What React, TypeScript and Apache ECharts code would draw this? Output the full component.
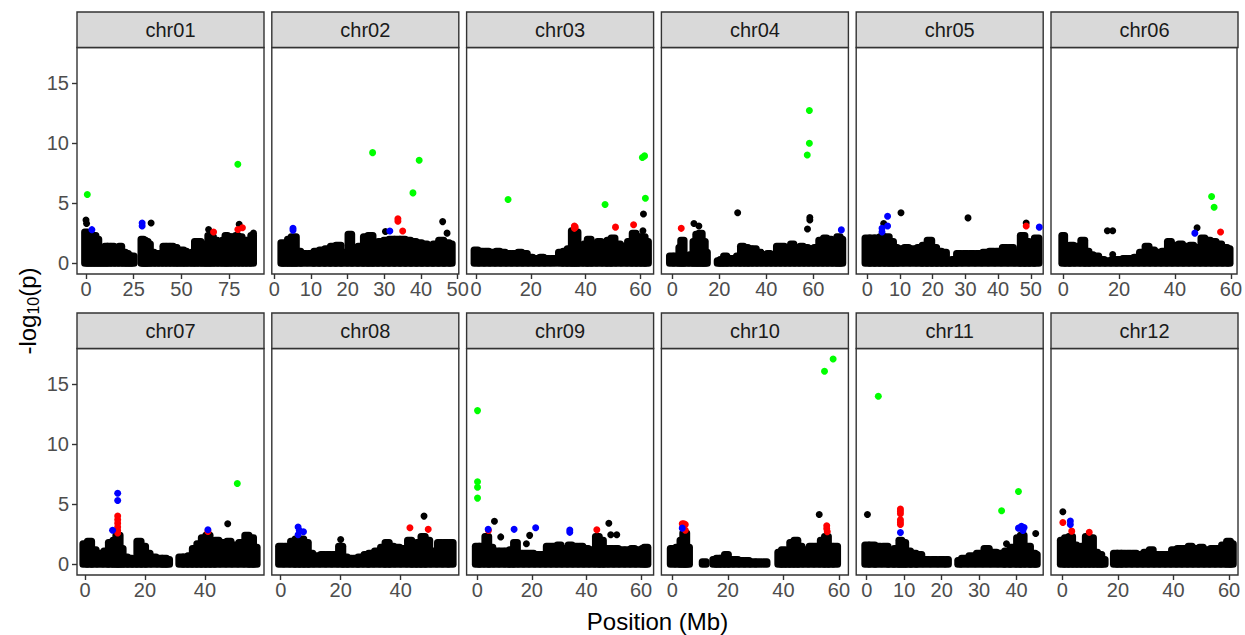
import { useEffect, useRef } from "react";
import * as echarts from "echarts";

const FONT = '"Liberation Sans", Arial, Helvetica, sans-serif';

const chromosomes = ["chr01", "chr02", "chr03", "chr04", "chr05", "chr06", "chr07", "chr08", "chr09", "chr10", "chr11", "chr12"];
const xMin = [-4.7, -0.68, -3.43, -4.64, -3.4, -4.38, -2.67, -2.97, -3.9, -3.9, -2.8, -4.06];
const xMax = [93.2, 50.3, 64.8, 74.9, 53.8, 62.2, 59.7, 59.4, 64.6, 63.4, 47.1, 63.2];
const xTicks = [
  [0, 25, 50, 75], [0, 10, 20, 30, 40, 50], [0, 20, 40, 60], [0, 20, 40, 60],
  [0, 10, 20, 30, 40, 50], [0, 20, 40, 60], [0, 20, 40], [0, 20, 40],
  [0, 20, 40, 60], [0, 20, 40, 60], [0, 10, 20, 30, 40], [0, 20, 40, 60],
];
const yTicks = [0, 5, 10, 15];
const yMin = -0.9;
const yMax = 17.95;

// Dense background cloud: [position Mb, upper envelope -log10(p), optional half-width Mb]
const chr01Cloud = [[0,2.6],[1.5,2.4],[3,2.3],[4.5,2.3],[6,2.0],[7.5,1.0],[9,1.2],[10.5,1.4],[12,1.4],[14,1.4],[16,1.3],[18,1.4],[20,0.9],[21.5,0.8],[23,0.6],[24.5,0.6,0.5],[29.5,2.0,0.5],[30.5,1.9],[31.8,1.8],[33,1.6],[35,0.9],[37,0.8],[39,0.8],[41,1.4],[43,1.4],[45,1.4],[47,1.3],[48.5,0.8],[50.5,1.1],[52,1.0],[54,0.8],[56,0.9],[57.5,1.8],[59.5,1.8],[61.5,1.5],[63,1.6],[64.5,2.3],[66,2.2],[68,1.9],[70,1.8],[72,1.9],[73.5,2.3],[75,2.2],[77,2.2],[79,2.3],[81,2.2],[83,1.9],[85,1.9],[87,2.3,0.4]];
const chr02Cloud = [[2.2,1.7,0.4],[3,1.3],[4.3,2.0],[5.3,2.2],[6.5,1.0],[8,0.8],[10,0.8],[11.5,1.0],[13,1.1],[14.5,1.2],[16,1.4],[17.5,1.5],[19,0.9],[20.6,2.4,0.5],[22,1.3],[23.5,1.4],[25,2.2],[26.2,2.3],[27.5,1.7],[29,1.8],[30.5,1.9],[32,2.0],[33.5,2.0],[35,2.0],[36.5,1.9],[38,1.8],[39.5,1.7],[41,1.6],[42.5,1.5],[44,1.6],[45.5,1.9],[47,1.7],[48.2,1.6,0.3]];
const chr03Cloud = [[0,1.1],[2,1.0],[4,1.0],[6,0.9],[8,1.0],[10,0.9],[12,0.8],[14,0.8],[16,0.9],[18,0.8],[20,0.5],[22,0.4],[24,0.5],[26,0.4],[28.2,0.4,0.4],[30.8,0.9,0.4],[32.5,1.0],[34,1.2],[35.5,2.7,0.5],[36.5,2.6,0.5],[38,1.4],[40,1.6],[41.3,2.0],[43,1.6],[45,1.8],[47,1.6],[48.5,1.9],[50,2.1],[52,1.6],[54,1.4],[56,1.8],[57.7,2.5,0.5],[59.3,2.2],[61,2.2],[62.2,1.8,0.3]];
const chr04Cloud = [[-0.5,0.6],[1.5,0.6],[3.5,1.3,0.5],[4.3,1.9,0.4],[6,0.6],[8,0.7],[9.5,1.8],[10.7,2.4],[12,2.5],[13.3,1.8,0.5],[14.2,0.9,0.3],[19.8,0.2,0.3],[21,0.3],[22.5,0.6],[24,0.4],[26,0.4],[28,0.6],[29.7,1.4],[31.5,1.3],[33,1.2],[35,1.2],[37,0.9],[39,0.7],[41,0.8],[43,0.6],[45,1.4],[47,1.4],[49,1.3],[51,1.6],[53,1.2],[55,1.4],[57,1.3],[59,1.2],[61,1.3],[63,1.9],[65,2.1],[67,2.0],[69,1.9],[70.7,2.2,0.5],[71.8,2.0,0.3]];
const chr05Cloud = [[0,2.1],[1.5,2.1],[3,2.1],[4.5,2.2],[6,2.2],[7.3,1.8],[8.5,1.3],[10,1.2],[12,1.3],[14,1.2],[16,1.3],[17.5,1.5],[19,1.9],[20.5,1.3],[22,1.0],[23.5,0.9],[25,0.2],[26.5,0.3],[28,0.8],[30,0.8],[32,0.8],[34,0.8],[36,0.9],[38,1.0],[40,1.0],[42,1.3],[44,1.3],[46,0.9],[47.5,2.3,0.5],[48.8,1.8],[50.3,1.0],[51.8,2.1,0.3]];
const chr06Cloud = [[0,2.3,0.5],[1.5,1.2],[3,1.5],[5,1.4],[7,1.9],[8.5,1.0],[10,0.7],[12,0.6],[14,0.3],[16,0.2],[18,0.3],[20,0.3],[22,0.4],[24,0.4],[26,0.5],[28,0.9],[30,1.4],[32,1.1],[34,0.9],[36,1.0],[38,1.8],[40,1.5],[42,1.6],[44,1.4],[46,1.5],[48,1.3],[50,2.1],[52,1.9],[54,1.8],[56,1.6],[58,1.3],[59.4,1.2,0.3]];
const chr07Cloud = [[0,1.7],[1.5,1.9],[3,1.2],[5,0.9],[7,1.1],[8.5,1.8],[10,2.0],[11,2.4,0.5],[12,1.3],[13.5,0.6],[15,0.5],[16.5,0.3],[18,1.9],[19.5,1.5],[21,0.9],[23,0.6],[25,0.5],[26.5,0.5],[27.5,0.4,0.3],[32,0.6,0.3],[33.5,0.6],[35,0.7],[36.5,1.3],[38,1.7],[39.5,2.2],[41,2.4],[42.5,1.7],[44,2.0],[46,1.8],[48,1.9],[50,1.6],[52,1.8],[54,2.4],[55.5,2.2],[56.7,1.4,0.3]];
const chr08Cloud = [[0,1.5],[2,1.5],[4,1.9],[5.5,2.1],[7,2.1],[8.5,1.8],[10,0.9],[12,0.7],[14,0.8],[16,0.8],[18,0.8],[20,1.5,0.5],[21.5,0.6],[23,0.5],[25,0.5],[26.5,0.6],[28.5,0.8],[30,0.9],[32,1.1],[34,1.4],[35.5,1.8],[37,1.5],[39,1.4],[41,1.3],[43,2.0,0.5],[44.5,1.5],[46,1.8],[47.5,2.3],[49,2.0],[51,1.1],[53,1.8],[55,1.8],[56.8,1.8,0.3]];
const chr09Cloud = [[0,1.5],[1.5,1.5],[3.5,2.3,0.5],[5,1.4],[7,1.1],[9,1.1],[11,1.1],[12.5,1.2],[14,1.8,0.5],[16,0.9],[18,0.9],[20,0.9],[22,0.8],[24,0.8],[26,1.5],[28,1.5],[30,1.6],[32,1.3],[34,1.6],[36,1.5],[38,1.5],[40,1.3],[42,1.2,0.4],[44,2.3,0.5],[45.5,2.0],[47,1.3],[49,1.3],[51,1.3],[53,1.2],[55,1.2],[57,1.3],[59,1.2],[61,1.3],[61.8,1.4,0.3]];
const chr10Cloud = [[0,1.3],[2,1.4],[3.5,2.0,0.5],[4.5,2.6,0.5],[5.5,1.4,0.6],[11.5,0.2,0],[15.3,0.4,0.4],[16.5,0.5],[18,0.5],[19.5,0.8],[21,0.4],[23,0.4],[25,0.3],[27,0.3],[29,0.2],[31,0.2],[33.4,0.2,0.5],[38.7,1.0,0.3],[40,1.2],[41.5,1.0],[43,1.8],[44.5,2.0],[46,1.5],[48,1.2],[50,1.5],[52,1.5],[54,2.0],[55.5,2.3],[57,1.5],[58.8,1.5,0.5]];
const chr11Cloud = [[0,1.6,0.5],[1.5,1.6],[3,1.5],[5,1.5],[6.5,1.0],[8,1.3],[9,2.0,0.4],[10,1.8,0.4],[11,1.1],[12.5,0.9],[14,0.8],[16,0.4],[18,0.4],[20,0.4],[21.5,0.4,0.3],[24.6,0.3,0.3],[26,0.5],[28,0.7],[30,0.9],[32,1.3],[34,1.0],[36,0.9],[37.5,1.1],[39,1.4],[40.5,2.2,0.5],[41.5,2.4,0.5],[43,1.5],[44.3,0.9],[45.2,0.8,0.3]];
const chr12Cloud = [[0,2.0],[1.5,2.2],[3,2.3,0.5],[4.5,1.6],[6,1.4],[7.5,1.5],[9,2.3,0.5],[10.5,2.2,0.5],[12,1.0],[13.5,0.8,0.5],[14.7,0.4,0.2],[19.1,0.9,0.3],[20.5,0.9],[22,0.9],[24,0.9],[26,0.9],[28,0.8],[30,1.0],[32,1.2],[34,0.8],[36,0.8],[38,0.8],[40,1.2],[42,1.3],[44,1.3],[46,1.5],[48,1.3],[50,1.4],[52,1.2],[54,1.3],[56,1.3],[58,1.6],[59.8,1.9,0.5],[60.8,1.7,0.3]];
const clouds = [chr01Cloud, chr02Cloud, chr03Cloud, chr04Cloud, chr05Cloud, chr06Cloud, chr07Cloud, chr08Cloud, chr09Cloud, chr10Cloud, chr11Cloud, chr12Cloud];

// Individual points: [chromosome index, position Mb, -log10(p)]
const blackPoints = [
  [0,0,3.6],[0,0.3,3.3],[0,34.1,3.35],[0,64.2,2.8],[0,80.2,3.24],[0,87.7,2.5],
  [1,30.3,2.63],[1,45.9,3.46],[1,47.1,2.5],
  [2,61.1,4.1],[2,60.9,2.7],
  [3,27.8,4.2],[3,58.5,3.8],[3,58.5,3.6],[3,57.5,2.85],[3,9.2,3.3],[3,11.3,3.1],
  [4,5.0,3.3],[4,10.3,4.2],[4,30.8,3.77],[4,48.6,3.35],
  [5,47.9,2.95],[5,15.8,2.7],[5,17.7,2.7],[5,17.7,0.73],
  [6,47.6,3.36],
  [7,47.8,4.0],[7,20.0,2.05],
  [8,6.3,3.58],[8,8.6,2.27],[8,19.2,2.4],[8,18.0,1.7],[8,48.2,3.4],[8,48.9,2.45],[8,51.1,2.45],
  [9,52.9,4.14],
  [10,0.2,4.14],[10,45.1,2.55],[10,37.3,1.7],
  [11,0.2,4.36],
];
const redPoints = [
  [0,66.8,2.6],[0,79.5,2.8],[0,81.9,2.95],
  [1,33.7,3.7],[1,33.7,3.5],[1,35.0,2.68],
  [2,35.9,3.1],[2,35.9,2.9],[2,36.2,3.0],[2,50.9,3.0],[2,57.5,3.2],
  [3,3.8,2.9],
  [4,48.6,3.1],
  [5,56.3,2.6],
  [6,10.9,4.0],[6,10.9,3.7],[6,10.9,3.4],[6,10.9,3.1],[6,10.9,2.8],[6,10.9,2.6],[6,41.0,2.73],
  [7,43.1,3.03],[7,49.2,2.9],
  [8,4.1,2.8],[8,43.8,2.87],
  [9,3.6,3.37],[9,4.2,3.37],[9,4.7,3.3],[9,4.7,2.83],[9,55.6,3.2],[9,55.6,2.95],[9,55.8,2.7],
  [10,9.0,4.6],[10,9.0,4.4],[10,9.0,4.2],[10,9.0,3.7],[10,9.0,3.5],[10,9.0,3.3],
  [11,0.2,3.47],[11,3.4,2.75],[11,9.7,2.65],
];
const bluePoints = [
  [0,3.1,2.79],[0,29.4,3.1],[0,29.4,3.35],
  [1,5.1,2.9],[1,5.1,2.75],[1,31.5,2.68],
  [3,71.9,2.77],
  [4,6.2,3.9],[4,4.5,2.9],[4,4.5,2.6],[4,6.2,3.1],[4,52.6,3.0],
  [5,47.1,2.5],
  [6,10.9,5.9],[6,10.9,5.3],[6,9.2,2.83],[6,41.0,2.87],
  [7,5.8,3.1],[7,5.8,2.45],[7,7.6,2.7],[7,6.2,2.8],
  [8,4.0,2.9],[8,13.5,2.9],[8,21.4,3.03],[8,33.9,2.85],[8,33.9,2.65],
  [9,3.6,3.0],
  [10,9.0,2.63],[10,40.5,3.0],[10,41.3,3.15],[10,42.0,3.05],[10,41.7,2.8],
  [11,2.9,3.6],[11,2.9,3.3],
];
const greenPoints = [
  [0,0.7,5.72],[0,79.5,8.23],
  [1,26.8,9.2],[1,39.5,8.56],[1,37.8,5.85],
  [2,11.7,5.3],[2,47.1,4.88],[2,60.7,8.8],[2,61.5,8.93],[2,61.8,5.4],
  [3,58.3,12.7],[3,58.3,9.98],[3,57.4,9.0],
  [5,53.1,5.55],[5,54.0,4.65],
  [6,50.8,6.72],
  [8,0.1,12.78],[8,0.1,6.86],[8,0.1,6.4],[8,0.1,5.5],
  [9,57.9,17.08],[9,54.8,16.05],
  [10,3.1,13.97],[10,40.5,6.05],[10,36.0,4.44],
];

const pointGroups = [
  { pts: blackPoints, color: "#000000", z: 3 },
  { pts: redPoints, color: "#FF0000", z: 4 },
  { pts: bluePoints, color: "#0000FF", z: 5 },
  { pts: greenPoints, color: "#00FF00", z: 6 },
];

export default function App() {
  const ref = useRef<HTMLDivElement>(null);
  useEffect(() => {
    const chart = echarts.init(ref.current as HTMLDivElement, null, { renderer: "svg" });
    const grids: any[] = [];
    const xAxes: any[] = [];
    const yAxes: any[] = [];
    const series: any[] = [];
    const graphics: any[] = [];
    const PW = 187;
    const PH = 226.5;
    const STRIP = 35.5;
    const R = 3.5;

    chromosomes.forEach((name, i) => {
      const col = i % 6;
      const row = Math.floor(i / 6);
      const left = 77 + col * 194.8;
      const top = row === 0 ? 47.5 : 348.5;
      grids.push({ left, top, width: PW, height: PH, show: true, borderColor: "#333333", borderWidth: 1.4, backgroundColor: "#ffffff" });
      xAxes.push({
        gridIndex: i, type: "value", min: xMin[i], max: xMax[i],
        axisLine: { show: false, onZero: false },
        splitLine: { show: false },
        axisTick: { show: true, length: 5, lineStyle: { color: "#333333", width: 1.4 }, customValues: xTicks[i] },
        axisLabel: { customValues: xTicks[i], color: "#4D4D4D", fontSize: 20, fontFamily: FONT, margin: 5 },
      });
      yAxes.push({
        gridIndex: i, type: "value", min: yMin, max: yMax,
        axisLine: { show: false, onZero: false },
        splitLine: { show: false },
        axisTick: { show: col === 0, length: 5, lineStyle: { color: "#333333", width: 1.4 }, customValues: yTicks },
        axisLabel: { show: col === 0, customValues: yTicks, color: "#4D4D4D", fontSize: 20, fontFamily: FONT, margin: 8 },
      });
      series.push({
        type: "custom", xAxisIndex: i, yAxisIndex: i, z: 2, silent: true, clip: true,
        data: clouds[i],
        encode: { x: 0, y: 1 },
        renderItem: (params: any, api: any) => {
          const x = api.value(0);
          const y = api.value(1);
          const hwRaw = api.value(2);
          const hw = typeof hwRaw === "number" && !isNaN(hwRaw) ? hwRaw : 0.7;
          const a = api.coord([x - hw, y]);
          const b = api.coord([x + hw, 0]);
          return {
            type: "rect",
            shape: { x: a[0] - R, y: a[1] - R, width: b[0] - a[0] + 2 * R, height: b[1] - a[1] + 2 * R, r: R },
            style: { fill: "#000000" },
          };
        },
      });
      pointGroups.forEach((g) => {
        series.push({
          type: "scatter", xAxisIndex: i, yAxisIndex: i, z: g.z, silent: true,
          symbol: "circle", symbolSize: 7,
          itemStyle: { color: g.color, opacity: 1 },
          data: g.pts.filter((p) => p[0] === i).map((p) => [p[1], p[2]]),
        });
      });
      graphics.push({
        type: "rect", silent: true,
        shape: { x: left, y: top - STRIP, width: PW, height: STRIP },
        style: { fill: "#D9D9D9", stroke: "#333333", lineWidth: 1.4 },
      });
      graphics.push({
        type: "text", silent: true, x: left + PW / 2, y: top - STRIP / 2,
        style: { text: name, align: "center", verticalAlign: "middle", fontSize: 20, fontFamily: FONT, fill: "#1A1A1A" },
      });
    });

    graphics.push({
      type: "text", silent: true, x: 657.5, y: 621,
      style: { text: "Position (Mb)", align: "center", verticalAlign: "middle", fontSize: 24, fontFamily: FONT, fill: "#000000" },
    });
    graphics.push({
      type: "text", silent: true, x: 27, y: 311, rotation: Math.PI / 2,
      style: {
        text: "{a|-log}{b|10}{a|(p)}",
        align: "center", verticalAlign: "middle",
        rich: {
          a: { fontSize: 24, fontFamily: FONT, fill: "#000000", lineHeight: 28, verticalAlign: "middle" },
          b: { fontSize: 16, fontFamily: FONT, fill: "#000000", lineHeight: 16, verticalAlign: "bottom" },
        },
      },
    });

    chart.setOption({
      animation: false,
      backgroundColor: "#ffffff",
      grid: grids,
      xAxis: xAxes,
      yAxis: yAxes,
      series,
      graphic: graphics,
    });
    return () => chart.dispose();
  }, []);
  return <div ref={ref} style={{ position: "fixed", left: 0, top: 0, width: 1245, height: 635 }} />;
}
